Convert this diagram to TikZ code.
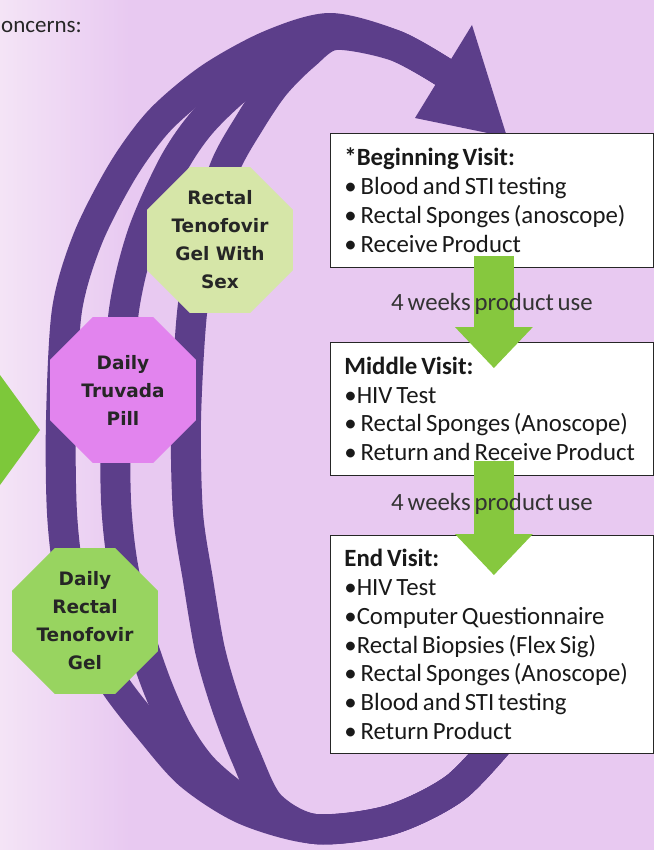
\documentclass[tikz,border=0pt]{standalone}
\usepackage{fontspec}
\setmainfont{Carlito}[WordSpace=0.7]
\newfontfamily\octfont{DejaVu Sans}
\usepackage{tikz}
\usetikzlibrary{calc, shapes.geometric, arrows.meta}
\definecolor{bgLilac}{RGB}{232,201,241}
\definecolor{bgLight}{RGB}{244,228,246}
\definecolor{loopPurple}{RGB}{92,62,138}
\definecolor{sexGreen}{RGB}{214,230,168}
\definecolor{pillPink}{RGB}{226,132,238}
\definecolor{gelGreen}{RGB}{152,212,96}
\definecolor{leftGreen}{RGB}{125,200,58}
\definecolor{stepGreen}{RGB}{134,200,62}
\tikzstyle{band}      = [draw=loopPurple, line width=30pt, line join=round]
\tikzstyle{octo}      = [regular polygon, regular polygon sides=8, minimum size=158pt, inner sep=0pt, align=center, text=black!85, font=\octfont\bfseries\fontsize{18.5}{28}\selectfont]
\tikzstyle{visit}     = [rectangle, draw=black!85, line width=0.8pt, fill=white, anchor=north west, text width=295pt, inner xsep=14pt, inner ysep=0pt, align=left, text=black!90, font=\fontsize{24.8}{28.8}\selectfont, execute at begin node={\spaceskip=0pt\xspaceskip=0pt\relax}]
\tikzstyle{weeks}     = [anchor=base, inner sep=0pt, text=black!80, font=\fontsize{24.8}{28.8}\selectfont]
\tikzstyle{greenarrow} = [draw=stepGreen, line width=40pt, -{Triangle[width=78pt,length=41pt,line width=0pt]}]

\begin{document}
\begin{tikzpicture}[x=1pt, y=-1pt]
      \useasboundingbox (0,0) rectangle (654,850);
      \fill[bgLilac] (0,0) rectangle (654,850);
      \shade[left color=bgLight, right color=bgLilac] (0,0) rectangle (130,850);

      % left green arrow, cut by the edge
      \fill[leftGreen] (0,375) -- (40,430) -- (0,485) -- cycle;

      % the three strands of the loop
      \draw [band] plot[smooth] coordinates {(505,735) (455,788) (390,820) (315,829) (245,810) (190,775) (150,730) (115,685) (88,635) (70,580) (62,513) (61,420) (67,310) (88,238) (123,170) (160,120) (210,78) (270,45) (330,28) (395,45) (445,73)};
      \draw [band] plot[smooth] coordinates {(505,735) (455,788) (390,820) (315,829) (250,805) (205,770) (178,732) (156,683) (135,620) (122,560) (116,500) (116,420) (124,310) (142,235) (172,167) (200,125) (238,88) (285,55) (330,31) (395,45) (445,73)};
      \draw [band] plot[smooth] coordinates {(505,735) (455,788) (390,820) (315,829) (270,805) (246,757) (226,705) (210,650) (198,580) (188,513) (186,420) (192,313) (205,235) (225,167) (250,122) (275,85) (305,55) (335,35) (395,46) (445,73)};
      \fill[loopPurple] (472,25) -- (507,137) -- (415,118) -- cycle;

      \node (sex)  [octo, fill=sexGreen] at (220,240) {Rectal\\Tenofovir\\Gel With\\Sex};
      \node (pill) [octo, fill=pillPink] at (123,390) {Daily\\Truvada\\Pill};
      \node (gel)  [octo, fill=gelGreen] at (85,621)  {Daily\\Rectal\\Tenofovir\\Gel};

      \node (begin)  [visit, minimum height=134pt] at (330,133) {\textbf{*Beginning Visit:}\\• Blood and STI testing\\• Rectal Sponges (anoscope)\\• Receive Product};
      \node (middle) [visit, minimum height=133pt] at (330,342) {\textbf{Middle Visit:}\\•HIV Test\\• Rectal Sponges (Anoscope)\\• Return and Receive Product};
      \node (end)    [visit, minimum height=218pt] at (330,535) {\textbf{End Visit:}\\•HIV Test\\•Computer Questionnaire\\•Rectal Biopsies (Flex Sig)\\• Rectal Sponges (Anoscope)\\• Blood and STI testing\\• Return Product};

      \draw [greenarrow] ([xshift=2pt,yshift=12pt]begin.south) -- ([xshift=2pt,yshift=-26pt]middle.north);
      \draw [greenarrow] ([xshift=2pt,yshift=15pt]middle.south) -- ([xshift=2pt,yshift=-40pt]end.north);

      \node (weeks1) [weeks] at (492,310) {4 weeks product use};
      \node (weeks2) [weeks] at (492,510) {4 weeks product use};

      \node (concerns) [anchor=base west, inner sep=0pt, text=black!85, font=\fontsize{23}{28}\selectfont] at (1,33) {oncerns:};
    \end{tikzpicture}
\end{document}
